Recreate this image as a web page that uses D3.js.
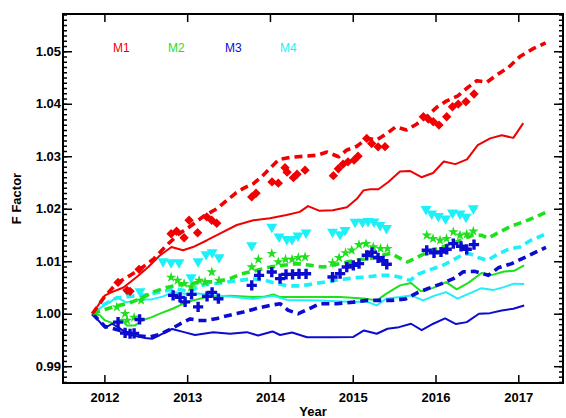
<!DOCTYPE html>
<html>
<head>
<meta charset="utf-8">
<script src="https://cdn.jsdelivr.net/npm/d3@7"></script>
<style>
  html, body { margin: 0; padding: 0; background: #fff; }
  svg { display: block; }
  .tick text { font-family: "Liberation Sans", Arial, sans-serif; font-weight: bold; font-size: 13px; fill: #000; }
</style>
</head>
<body>
<svg id="chart" width="566" height="418"></svg>
<script>
// ---- series: [decimal year, F factor] ----
const m1Solid = [[2011.855,1.0000],[2012.008,1.0035],[2012.09,1.0041],[2012.23,1.0050],[2012.39,1.0070],[2012.53,1.0089],[2012.67,1.0111],[2012.81,1.0127],[2012.95,1.0121],[2013.07,1.0127],[2013.24,1.0140],[2013.40,1.0153],[2013.60,1.0169],[2013.80,1.0178],[2014.00,1.0182],[2014.20,1.0188],[2014.36,1.0194],[2014.46,1.0205],[2014.60,1.0196],[2014.76,1.0197],[2014.93,1.0203],[2015.05,1.0219],[2015.13,1.0235],[2015.21,1.0237],[2015.31,1.0237],[2015.43,1.0251],[2015.57,1.0271],[2015.69,1.0272],[2015.83,1.0260],[2015.97,1.0268],[2016.10,1.0290],[2016.24,1.0285],[2016.38,1.0294],[2016.51,1.0321],[2016.66,1.0334],[2016.80,1.0340],[2016.94,1.0335],[2017.06,1.0363]];
const m1Dashed = [[2011.855,1.0000],[2012.0,1.0032],[2012.15,1.0058],[2012.3,1.0072],[2012.45,1.0087],[2012.6,1.0105],[2012.75,1.0130],[2012.9,1.0152],[2013.05,1.0168],[2013.2,1.0186],[2013.36,1.0200],[2013.48,1.0216],[2013.58,1.0229],[2013.68,1.0239],[2013.80,1.0248],[2013.90,1.0261],[2014.00,1.0277],[2014.11,1.0294],[2014.25,1.0298],[2014.42,1.0300],[2014.57,1.0302],[2014.69,1.0308],[2014.83,1.0299],[2014.93,1.0312],[2015.05,1.0319],[2015.17,1.0334],[2015.29,1.0331],[2015.41,1.0343],[2015.52,1.0356],[2015.65,1.0350],[2015.77,1.0361],[2015.91,1.0378],[2016.02,1.0394],[2016.13,1.0405],[2016.27,1.0415],[2016.39,1.0431],[2016.50,1.0444],[2016.62,1.0441],[2016.74,1.0455],[2016.88,1.0469],[2017.02,1.0490],[2017.18,1.0505],[2017.33,1.0516]];
const m2Solid = [[2011.855,1.0000],[2011.948,0.99968],[2012.008,0.99872],[2012.109,0.99815],[2012.21,0.99891],[2012.271,0.99777],[2012.371,0.99777],[2012.452,0.99872],[2012.572,0.99935],[2012.693,1.00015],[2012.824,1.00095],[2012.954,1.00191],[2013.075,1.00254],[2013.237,1.00317],[2013.518,1.0034],[2013.80,1.00317],[2013.92,1.00321],[2014.041,1.00368],[2014.122,1.00317],[2014.324,1.00317],[2014.605,1.00317],[2014.847,1.00317],[2015.128,1.00292],[2015.209,1.00273],[2015.293,1.00254],[2015.402,1.00378],[2015.571,1.0054],[2015.704,1.00584],[2015.825,1.00426],[2015.97,1.00492],[2016.127,1.00603],[2016.256,1.00464],[2016.396,1.00588],[2016.556,1.00775],[2016.688,1.0074],[2016.827,1.00803],[2016.948,1.00817],[2017.071,1.00922]];
const m2Dashed = [[2011.855,1.0000],[2012.0,1.0008],[2012.15,1.0015],[2012.3,1.0020],[2012.45,1.0030],[2012.6,1.0042],[2012.75,1.0050],[2012.9,1.0055],[2013.035,1.00573],[2013.176,1.00603],[2013.337,1.00607],[2013.518,1.00668],[2013.659,1.0076],[2013.841,1.00826],[2014.001,1.00889],[2014.162,1.00922],[2014.324,1.00954],[2014.49,1.00922],[2014.645,1.00889],[2014.807,1.00941],[2014.943,1.00989],[2015.064,1.01027],[2015.185,1.01046],[2015.33,1.01103],[2015.463,1.01151],[2015.577,1.0105],[2015.662,1.00985],[2015.801,1.01094],[2015.922,1.01189],[2016.054,1.01256],[2016.187,1.01332],[2016.314,1.01408],[2016.447,1.01494],[2016.562,1.01494],[2016.634,1.01437],[2016.758,1.01542],[2016.909,1.01666],[2017.06,1.01748],[2017.214,1.01847],[2017.334,1.01933]];
const m3Solid = [[2011.855,1.0000],[2012.008,0.99729],[2012.093,0.99809],[2012.178,0.99729],[2012.25,0.99649],[2012.35,0.99586],[2012.492,0.99538],[2012.576,0.99523],[2012.673,0.99595],[2012.818,0.9971],[2012.963,0.99649],[2013.095,0.99595],[2013.316,0.99649],[2013.518,0.99618],[2013.72,0.99649],[2013.856,0.99586],[2014.031,0.99662],[2014.122,0.99595],[2014.267,0.99643],[2014.448,0.99553],[2014.726,0.99553],[2015.007,0.99557],[2015.136,0.99681],[2015.29,0.99618],[2015.42,0.99714],[2015.559,0.99744],[2015.704,0.99809],[2015.833,0.99687],[2015.973,0.99809],[2016.115,0.9991],[2016.248,0.99802],[2016.377,0.9984],[2016.525,1.0000],[2016.658,1.00011],[2016.80,1.00063],[2016.94,1.00095],[2017.071,1.00158]];
const m3Dashed = [[2011.855,1.0000],[2012.008,0.99758],[2012.19,0.99681],[2012.37,0.99586],[2012.55,0.99557],[2012.673,0.99605],[2012.794,0.997],[2012.914,0.99805],[2013.035,0.99901],[2013.132,0.99872],[2013.24,0.99872],[2013.361,0.9991],[2013.498,0.99968],[2013.679,1.00031],[2013.86,1.00111],[2014.001,1.00158],[2014.122,1.00191],[2014.222,1.00063],[2014.343,1.0000],[2014.472,1.00095],[2014.605,1.00191],[2014.807,1.00191],[2015.007,1.00221],[2015.169,1.00254],[2015.31,1.00254],[2015.47,1.00254],[2015.64,1.00282],[2015.79,1.00406],[2015.93,1.00492],[2016.075,1.00573],[2016.215,1.00668],[2016.336,1.00798],[2016.477,1.00807],[2016.638,1.00731],[2016.758,1.00874],[2016.92,1.00954],[2017.081,1.01074],[2017.334,1.01265]];
const m4Solid = [[2011.855,1.0000],[2011.96,1.0012],[2012.069,1.00221],[2012.15,1.00317],[2012.262,1.00216],[2012.431,1.00273],[2012.572,1.00273],[2012.709,1.0033],[2012.83,1.00416],[2012.975,1.00378],[2013.132,1.00387],[2013.313,1.0035],[2013.518,1.0033],[2013.80,1.00282],[2014.041,1.0034],[2014.206,1.00263],[2014.605,1.00254],[2015.007,1.00221],[2015.161,1.00235],[2015.29,1.00158],[2015.402,1.00286],[2015.571,1.00317],[2015.704,1.00349],[2015.849,1.00254],[2015.982,1.0034],[2016.127,1.00412],[2016.266,1.00286],[2016.405,1.00382],[2016.556,1.00487],[2016.694,1.0045],[2016.815,1.00502],[2016.948,1.00573],[2017.071,1.00565]];
const m4Dashed = [[2011.855,1.0000],[2012.0,1.0018],[2012.15,1.0030],[2012.3,1.0033],[2012.5,1.0036],[2012.7,1.0042],[2012.85,1.0048],[2013.035,1.00416],[2013.156,1.0054],[2013.316,1.00573],[2013.478,1.00603],[2013.639,1.00635],[2013.78,1.00668],[2013.941,1.00635],[2014.082,1.00573],[2014.219,1.0053],[2014.376,1.0053],[2014.545,1.00573],[2014.702,1.00616],[2014.883,1.00655],[2015.046,1.00687],[2015.185,1.00702],[2015.33,1.00731],[2015.475,1.00731],[2015.595,1.00683],[2015.692,1.00635],[2015.801,1.0076],[2015.946,1.00845],[2016.078,1.00912],[2016.205,1.01017],[2016.336,1.01132],[2016.417,1.01141],[2016.525,1.01065],[2016.628,1.01017],[2016.749,1.01132],[2016.879,1.01227],[2017.02,1.01271],[2017.153,1.01399],[2017.31,1.01504]];

// ---- individual measurements ----
const m1Points = [[2012.165,1.00597],[2012.274,1.00445],[2012.31,1.00426],[2012.419,1.00845],[2012.806,1.01523],[2012.872,1.01571],[2012.963,1.01447],[2013.023,1.01781],[2013.126,1.01542],[2013.237,1.01844],[2013.297,1.01781],[2013.357,1.01723],[2013.78,1.02225],[2013.832,1.02296],[2014.025,1.02511],[2014.101,1.02487],[2014.182,1.02782],[2014.207,1.02697],[2014.283,1.02592],[2014.327,1.02658],[2014.424,1.02735],[2014.766,1.0263],[2014.826,1.02763],[2014.883,1.02849],[2014.943,1.02893],[2015.016,1.02926],[2015.064,1.03002],[2015.169,1.0334],[2015.229,1.03244],[2015.306,1.03179],[2015.39,1.03183],[2015.853,1.03752],[2015.913,1.03708],[2015.973,1.03656],[2016.042,1.03593],[2016.135,1.03752],[2016.205,1.03943],[2016.275,1.03994],[2016.368,1.04038],[2016.465,1.04185]];
const m2Points = [[2012.15,1.00126],[2012.25,1.0000],[2012.274,0.99872],[2012.359,0.99929],[2012.443,1.00254],[2012.806,1.00693],[2012.884,1.00635],[2012.963,1.00573],[2013.047,1.00508],[2013.144,1.00635],[2013.216,1.00603],[2013.297,1.00794],[2013.385,1.00635],[2013.78,1.00889],[2013.86,1.01036],[2014.022,1.01145],[2014.101,1.00985],[2014.188,1.01036],[2014.267,1.01036],[2014.343,1.01069],[2014.424,1.0108],[2014.756,1.00969],[2014.835,1.01065],[2014.913,1.0116],[2014.988,1.01208],[2015.076,1.01313],[2015.161,1.01332],[2015.249,1.01271],[2015.336,1.0124],[2015.42,1.0124],[2015.894,1.01494],[2015.97,1.01431],[2016.055,1.01399],[2016.133,1.01431],[2016.215,1.01557],[2016.296,1.01494],[2016.377,1.01513],[2016.457,1.01571]];
const m3Points = [[2012.165,0.9984],[2012.25,0.99634],[2012.31,0.99618],[2012.359,0.99624],[2012.425,0.99891],[2012.83,1.00349],[2012.914,1.00311],[2012.975,1.00225],[2013.053,1.00368],[2013.132,1.0013],[2013.24,1.0033],[2013.301,1.00406],[2013.377,1.00286],[2013.78,1.0054],[2013.868,1.00731],[2014.022,1.00794],[2014.122,1.00668],[2014.194,1.0075],[2014.273,1.0075],[2014.351,1.0076],[2014.436,1.0076],[2014.756,1.00698],[2014.847,1.00763],[2014.928,1.00889],[2015.007,1.00922],[2015.076,1.00954],[2015.169,1.01113],[2015.233,1.0117],[2015.306,1.01065],[2015.366,1.01008],[2015.411,1.00941],[2015.894,1.01208],[2015.982,1.0116],[2016.066,1.01176],[2016.135,1.01227],[2016.215,1.01336],[2016.308,1.01284],[2016.377,1.01227],[2016.465,1.01317]];
const m4Points = [[2012.286,1.00406],[2012.431,1.00426],[2012.709,1.00998],[2012.806,1.00979],[2012.902,1.00979],[2013.047,1.00693],[2013.132,1.00998],[2013.228,1.01132],[2013.301,1.0117],[2013.385,1.01074],[2013.78,1.01303],[2014.022,1.01653],[2014.11,1.01466],[2014.203,1.01418],[2014.267,1.01418],[2014.339,1.01485],[2014.436,1.01542],[2014.756,1.01557],[2014.847,1.01513],[2014.907,1.0159],[2015.028,1.01748],[2015.118,1.01748],[2015.185,1.01761],[2015.257,1.01752],[2015.33,1.01685],[2015.408,1.01628],[2015.885,1.0199],[2015.954,1.01908],[2016.034,1.01857],[2016.121,1.01813],[2016.205,1.01924],[2016.296,1.01908],[2016.368,1.01844],[2016.457,1.02004]];

const legendNames = ["M1", "M2", "M3", "M4"];
const yearTicks = [2012, 2013, 2014, 2015, 2016, 2017];
const factorTicks = [0.99, 1.00, 1.01, 1.02, 1.03, 1.04, 1.05];

const colors = { M1: "#f00000", M2: "#1ee01e", M3: "#0c0cd0", M4: "#1ef0f8" };

const svg = d3.select("#chart");
const plotLeft = 63, plotRight = 563, plotTop = 14, plotBottom = 383;

const x = d3.scaleLinear().domain([2011.5, 2017.54]).range([plotLeft, plotRight]);
const y = d3.scaleLinear().domain([0.9868, 1.0571]).range([plotBottom, plotTop]);

// minor tick positions
const minorX = d3.range(115, 176).map(d => d / 10).filter(d => d >= 2011.5 && d <= 2017.54);
const minorY = d3.range(987, 1058).map(d => d / 1000);

function styleAxis(g) {
  g.select(".domain").remove();
  g.selectAll(".tick line").attr("stroke", "#000").attr("stroke-width", 1.5);
}

// ticks pointing inward on all four sides
svg.append("g").attr("transform", `translate(${plotLeft},0)`)
  .call(d3.axisLeft(y).tickValues(minorY).tickSize(-4).tickFormat(""))
  .call(styleAxis);
svg.append("g").attr("transform", `translate(${plotLeft},0)`)
  .call(d3.axisLeft(y).tickValues(factorTicks).tickSize(-9).tickPadding(2).tickFormat(d3.format(".2f")))
  .call(styleAxis);
svg.append("g").attr("transform", `translate(${plotRight},0)`)
  .call(d3.axisRight(y).tickValues(minorY).tickSize(-4).tickFormat(""))
  .call(styleAxis);
svg.append("g").attr("transform", `translate(${plotRight},0)`)
  .call(d3.axisRight(y).tickValues(factorTicks).tickSize(-9).tickFormat(""))
  .call(styleAxis);
svg.append("g").attr("transform", `translate(0,${plotBottom})`)
  .call(d3.axisBottom(x).tickValues(minorX).tickSize(-4).tickFormat(""))
  .call(styleAxis);
svg.append("g").attr("transform", `translate(0,${plotBottom})`)
  .call(d3.axisBottom(x).tickValues(yearTicks).tickSize(-8).tickPadding(10).tickFormat(d3.format("d")))
  .call(styleAxis);
svg.append("g").attr("transform", `translate(0,${plotTop})`)
  .call(d3.axisTop(x).tickValues(minorX).tickSize(-4).tickFormat(""))
  .call(styleAxis);
svg.append("g").attr("transform", `translate(0,${plotTop})`)
  .call(d3.axisTop(x).tickValues(yearTicks).tickSize(-8).tickFormat(""))
  .call(styleAxis);

// frame
svg.append("rect")
  .attr("x", plotLeft).attr("y", plotTop)
  .attr("width", plotRight - plotLeft).attr("height", plotBottom - plotTop)
  .attr("fill", "none").attr("stroke", "#000").attr("stroke-width", 2);

// axis titles
svg.append("text")
  .attr("x", (plotLeft + plotRight) / 2).attr("y", 416)
  .attr("text-anchor", "middle")
  .style("font-family", "Liberation Sans, Arial, sans-serif")
  .style("font-weight", "bold").style("font-size", "13px")
  .text("Year");
svg.append("text")
  .attr("transform", `translate(21,${(plotTop + plotBottom) / 2}) rotate(-90)`)
  .attr("text-anchor", "middle")
  .style("font-family", "Liberation Sans, Arial, sans-serif")
  .style("font-weight", "bold").style("font-size", "13px")
  .text("F Factor");

// lines
const line = d3.line().x(d => x(d[0])).y(d => y(d[1]));
const plot = svg.append("g");
const lineSets = [
  [m2Solid, "M2", false], [m4Solid, "M4", false], [m3Solid, "M3", false], [m1Solid, "M1", false],
  [m4Dashed, "M4", true], [m3Dashed, "M3", true], [m2Dashed, "M2", true], [m1Dashed, "M1", true]
];
lineSets.forEach(([data, key, dashed]) => {
  plot.append("path")
    .datum(data)
    .attr("d", line)
    .attr("fill", "none")
    .attr("stroke", colors[key])
    .attr("stroke-width", dashed ? 3.6 : 2)
    .attr("stroke-dasharray", dashed ? "8,5" : null)
    .attr("stroke-linejoin", "round");
});

// markers
function drawMarkers(data, key, symbolType, size, rotate) {
  const sym = d3.symbol().type(symbolType).size(size);
  plot.append("g").selectAll("path")
    .data(data)
    .join("path")
    .attr("d", sym)
    .attr("transform", d => `translate(${x(d[0])},${y(d[1])}) rotate(${rotate})`)
    .attr("fill", colors[key]);
}
drawMarkers(m4Points, "M4", d3.symbolTriangle, 52, 180);
drawMarkers(m2Points, "M2", d3.symbolStar, 34, 0);
drawMarkers(m3Points, "M3", d3.symbolCross, 58, 0);
drawMarkers(m1Points, "M1", d3.symbolSquare, 44, 45);

// legend
const legendX = d3.scaleOrdinal().domain(legendNames).range([113, 168, 225, 280]);
svg.append("g").selectAll("text")
  .data(legendNames)
  .join("text")
  .attr("x", d => legendX(d)).attr("y", 52)
  .attr("fill", d => colors[d])
  .style("font-family", "Liberation Sans, Arial, sans-serif")
  .style("font-size", "12px")
  .text(d => d);
</script>
</body>
</html>
